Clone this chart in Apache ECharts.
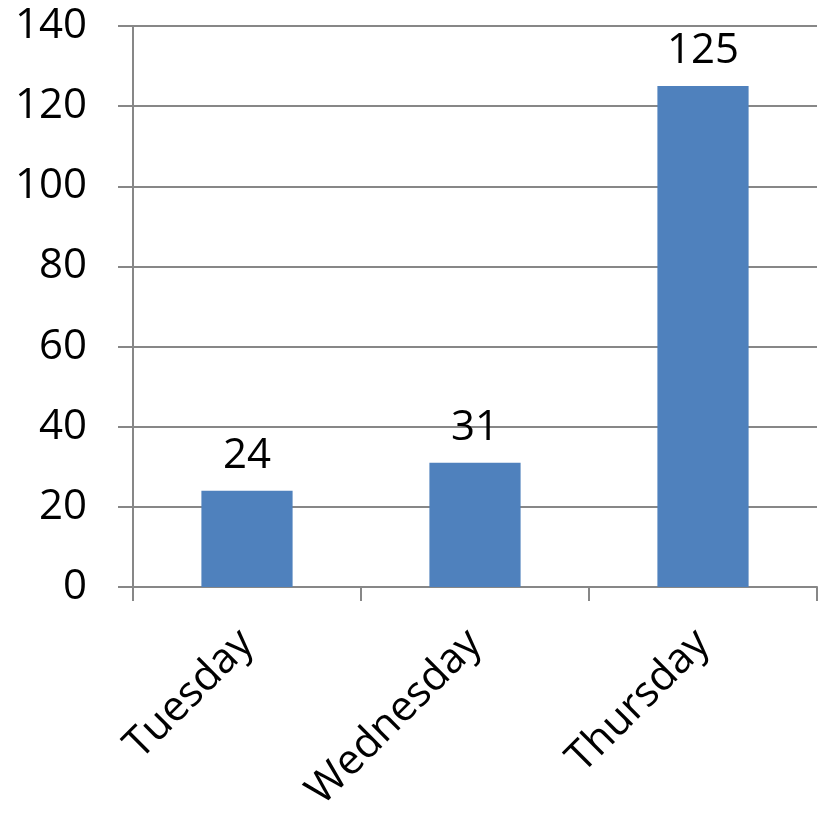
<!DOCTYPE html>
<html>
<head>
<meta charset="utf-8">
<script src="https://cdn.jsdelivr.net/npm/echarts@6/dist/echarts.min.js"></script>
<style>
  html, body { margin: 0; padding: 0; background: #fff; }
  #chart { width: 825px; height: 813px; }
</style>
</head>
<body>
<div id="chart"></div>
<script>
const days = ['Tuesday', 'Wednesday', 'Thursday'];
const counts = [24, 31, 125];

const FONT = '"Open Sans", "Liberation Sans", sans-serif';
const gris = '#878787';

const chart = echarts.init(document.getElementById('chart'));

const option = {
  backgroundColor: '#ffffff',
  animation: false,
  grid: { left: 133, right: 8, top: 26, bottom: 226, outerBoundsMode: 'none' },
  xAxis: {
    type: 'category',
    data: days,
    axisLine: { lineStyle: { color: gris, width: 2 } },
    axisTick: { show: true, length: 14, lineStyle: { color: gris, width: 2 } },
    axisLabel: {
      rotate: 45,
      margin: 50,
      color: '#000',
      fontFamily: FONT,
      fontSize: 42
    }
  },
  yAxis: {
    type: 'value',
    min: 0,
    max: 140,
    interval: 20,
    axisLine: { show: true, lineStyle: { color: gris, width: 2 } },
    axisTick: { show: true, length: 15, lineStyle: { color: gris, width: 2 } },
    splitLine: { lineStyle: { color: gris, width: 2 } },
    axisLabel: {
      margin: 46,
      color: '#000',
      fontFamily: FONT,
      fontSize: 42
    }
  },
  series: [
    {
      type: 'bar',
      data: counts,
      barCategoryGap: '60%',
      itemStyle: { color: '#4F81BD' },
      label: {
        show: true,
        position: 'top',
        distance: 14,
        color: '#000',
        fontFamily: FONT,
        fontSize: 42
      }
    }
  ]
};

chart.setOption(option);
</script>
</body>
</html>
